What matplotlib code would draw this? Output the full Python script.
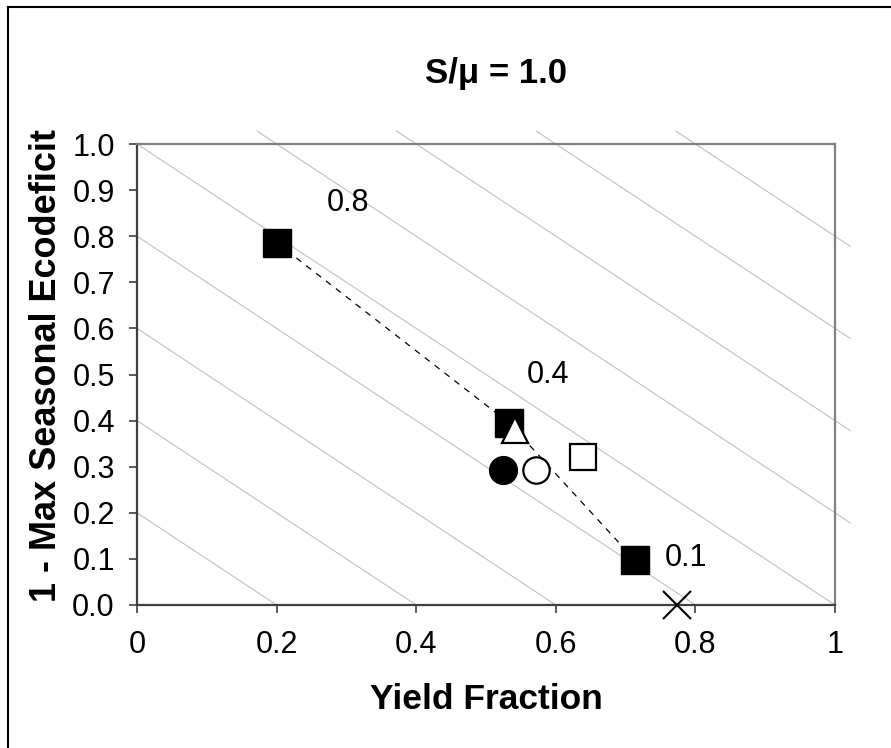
import matplotlib
matplotlib.use('Agg')
import matplotlib.pyplot as plt
from matplotlib.lines import Line2D

plt.rcParams['font.family'] = ['Liberation Sans', 'DejaVu Sans']

# connected series (filled squares)
line_x = [0.2, 0.533, 0.713]
line_y = [0.786, 0.395, 0.098]
line_labels = ['0.8', '0.4', '0.1']
label_x = [0.302, 0.589, 0.787]
label_y = [0.872, 0.499, 0.102]

# single points
tri_x, tri_y = [0.542], [0.38]
fcirc_x, fcirc_y = [0.525], [0.293]
ocirc_x, ocirc_y = [0.571], [0.293]
osq_x, osq_y = [0.639], [0.32]
cross_x, cross_y = [0.773], [0.0]

# background lines x + y = c
iso_levels = [0.2, 0.4, 0.6, 0.8, 1.0, 1.2, 1.4, 1.6, 1.8]

xticks = [0, 0.2, 0.4, 0.6, 0.8, 1]
xticklabels = ['0', '0.2', '0.4', '0.6', '0.8', '1']
yticks = [0.0, 0.1, 0.2, 0.3, 0.4, 0.5, 0.6, 0.7, 0.8, 0.9, 1.0]

fig = plt.figure(figsize=(8.91, 7.48), dpi=100)
ax = fig.add_axes([137/891, 1 - 605/748, 698/891, 461/748])

# iso lines, running a little past the top/right of the plot area
xmax, ymax = 1.022, 1.028
for c in iso_levels:
    x0 = max(0.0, c - ymax)
    y0 = c - x0
    x1 = min(c, xmax)
    y1 = c - x1
    ax.plot([x0, x1], [y0, y1], color='#c0c0c0', lw=0.8, clip_on=False, zorder=1)

ax.plot(line_x, line_y, color='black', lw=0.9, dashes=(5, 5), zorder=2)
ax.plot(line_x, line_y, ls='none', marker='s', ms=20, mfc='black', mec='black', zorder=3)
ax.plot(tri_x, tri_y, ls='none', marker='^', ms=19, mfc='white', mec='black', mew=1.6, zorder=4)
ax.plot(fcirc_x, fcirc_y, ls='none', marker='o', ms=20, mfc='black', mec='black', zorder=3)
ax.plot(ocirc_x, ocirc_y, ls='none', marker='o', ms=19, mfc='white', mec='black', mew=1.6, zorder=3)
ax.plot(osq_x, osq_y, ls='none', marker='s', ms=19, mfc='white', mec='black', mew=1.6, zorder=3)
ax.plot(cross_x, cross_y, ls='none', marker='x', ms=20, mec='black', mew=1.5, clip_on=False, zorder=5)

for t, x, y in zip(line_labels, label_x, label_y):
    ax.text(x, y, t, fontsize=22, ha='center', va='center')

ax.set_xlim(0, 1)
ax.set_ylim(0, 1)
ax.set_xticks(xticks)
ax.set_xticklabels(xticklabels)
ax.set_yticks(yticks)
ax.set_yticklabels([f'{v:.1f}' for v in yticks])
ax.tick_params(axis='both', direction='out', length=6, width=1.2, color='#404040', labelsize=22)
ax.tick_params(axis='x', pad=12)
ax.tick_params(axis='y', pad=10)

for side in ['top', 'right']:
    ax.spines[side].set_color('#808080')
    ax.spines[side].set_linewidth(1.6)
for side in ['left', 'bottom']:
    ax.spines[side].set_color('#404040')
    ax.spines[side].set_linewidth(1.6)

ax.set_xlabel('Yield Fraction', fontsize=25.5, fontweight='bold', va='center')
ax.set_ylabel('1 - Max Seasonal Ecodeficit', fontsize=26, fontweight='bold', va='center')
ax.xaxis.set_label_coords(0.5, -0.206)
ax.yaxis.set_label_coords(-0.13, 0.52)
ax.text(0.514, 1.132, 'S/\u03bc = 1.0', transform=ax.transAxes, fontsize=25,
        fontweight='bold', ha='center', va='baseline')

# chart frame (only top and left edges visible in the crop)
fig.add_artist(Line2D([8/891, 1.0], [1 - 7/748, 1 - 7/748], transform=fig.transFigure, color='black', lw=1.5))
fig.add_artist(Line2D([8/891, 8/891], [0.0, 1 - 7/748], transform=fig.transFigure, color='black', lw=1.5))

fig.savefig('out.png', dpi=100, facecolor='white')
